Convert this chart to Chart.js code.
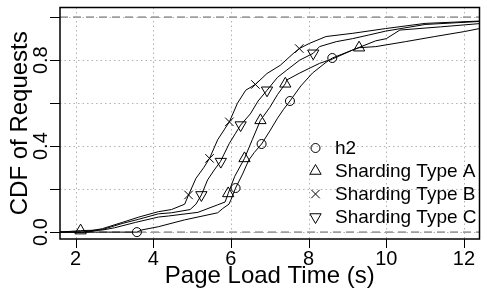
<!DOCTYPE html>
<html>
<head>
<meta charset="utf-8">
<script src="https://cdn.jsdelivr.net/npm/chart.js@4/dist/chart.umd.min.js"></script>
<style>
  html, body { margin: 0; padding: 0; background: #fff; }
  canvas { display: block; }
</style>
</head>
<body>
<canvas id="cdfChart" width="487" height="290"></canvas>
<script>
// CDF curves (page load time in s, fraction of requests)
var h2X = [1.6, 3.58, 3.7, 4.13, 4.81, 5.66, 5.79, 5.95, 6.0, 6.12, 6.3, 6.46, 6.6, 6.79, 7.0, 7.2, 7.35, 7.52, 7.8, 8.1, 8.45, 8.61, 9.13, 9.73, 10.0, 10.35, 11.4, 12.4];
var h2Y = [0, 0, 0.01, 0.025, 0.057, 0.09, 0.11, 0.13, 0.15, 0.205, 0.27, 0.335, 0.37, 0.41, 0.47, 0.53, 0.57, 0.61, 0.68, 0.74, 0.79, 0.81, 0.847, 0.89, 0.90, 0.94, 0.955, 0.97];

var typeAX = [1.6, 2.13, 2.7, 3.0, 3.54, 4.13, 4.39, 5.15, 5.66, 5.85, 5.93, 6.1, 6.35, 6.55, 6.76, 7.0, 7.2, 7.4, 7.44, 7.77, 8.28, 8.61, 9.13, 9.3, 9.73, 10.49, 11.25, 12.01, 12.4];
var typeAY = [0, 0.007, 0.01, 0.02, 0.045, 0.07, 0.075, 0.092, 0.127, 0.14, 0.18, 0.26, 0.343, 0.43, 0.52, 0.58, 0.64, 0.69, 0.708, 0.74, 0.785, 0.805, 0.847, 0.858, 0.863, 0.886, 0.91, 0.933, 0.947];

var typeBX = [1.6, 2.2, 2.69, 3.2, 3.63, 4.13, 4.47, 4.81, 4.91, 5.1, 5.3, 5.45, 5.66, 5.96, 6.17, 6.38, 6.63, 6.93, 7.27, 7.6, 7.76, 8.02, 8.45, 9.14, 9.98, 11.0, 12.4];
var typeBY = [0, 0, 0.016, 0.045, 0.07, 0.095, 0.105, 0.13, 0.173, 0.25, 0.3, 0.343, 0.43, 0.513, 0.6, 0.66, 0.687, 0.738, 0.776, 0.83, 0.854, 0.878, 0.91, 0.925, 0.947, 0.971, 0.982];

var typeCX = [1.6, 2.3, 2.69, 3.2, 3.63, 4.13, 4.47, 4.95, 5.1, 5.24, 5.4, 5.57, 5.73, 5.96, 6.12, 6.25, 6.5, 6.7, 6.93, 7.2, 7.44, 7.77, 8.12, 8.28, 8.71, 9.13, 9.55, 9.98, 11.0, 12.4];
var typeCY = [0, 0, 0.012, 0.04, 0.06, 0.085, 0.09, 0.105, 0.13, 0.173, 0.243, 0.289, 0.328, 0.413, 0.46, 0.498, 0.55, 0.61, 0.66, 0.72, 0.754, 0.80, 0.832, 0.863, 0.886, 0.90, 0.917, 0.935, 0.966, 0.98];

// where the symbols sit on each curve
var h2MarkX = [3.58, 6.12, 6.79, 7.52, 8.61];
var h2MarkY = [0, 0.205, 0.41, 0.61, 0.81];
var typeAMarkX = [2.13, 5.93, 6.35, 6.76, 7.40, 9.30];
var typeAMarkY = [0.007, 0.18, 0.343, 0.52, 0.69, 0.858];
var typeBMarkX = [4.91, 5.45, 5.96, 6.63, 7.76];
var typeBMarkY = [0.173, 0.343, 0.513, 0.687, 0.854];
var typeCMarkX = [5.24, 5.74, 6.25, 6.93, 8.12];
var typeCMarkY = [0.173, 0.328, 0.498, 0.66, 0.832];

var seriesNames = ["h2", "Sharding Type A", "Sharding Type B", "Sharding Type C"];

// axes
var xTicks = [2, 4, 6, 8, 10, 12];
var xTickLabels = ["2", "4", "6", "8", "10", "12"];
var yTicks = [0, 0.2, 0.4, 0.6, 0.8, 1.0];
var yTickLabels = ["0.0", "", "0.4", "", "0.8", ""];
var refLines = [0, 1];
var xTitle = "Page Load Time (s)";
var yTitle = "CDF of Requests";

var FONT = "'Liberation Sans', Arial, Helvetica, sans-serif";

function pts(xs, ys) {
    return xs.map(function (x, i) { return { x: x, y: ys[i] }; });
}

var symbols = [
    { pointStyle: 'circle', radius: 4.5, rotation: 0 },
    { pointStyle: 'triangle', radius: 6.5, rotation: 0 },
    { pointStyle: 'crossRot', radius: 6, rotation: 0 },
    { pointStyle: 'triangle', radius: 6.5, rotation: 180 }
];

function curve(xs, ys) {
    return {
        data: pts(xs, ys),
        showLine: true,
        borderColor: '#000',
        borderWidth: 1,
        pointRadius: 0,
        tension: 0
    };
}

function markers(xs, ys, sym) {
    return {
        data: pts(xs, ys),
        showLine: false,
        pointStyle: sym.pointStyle,
        pointRadius: sym.radius,
        pointRotation: sym.rotation,
        pointBorderColor: '#000',
        pointBackgroundColor: 'rgba(0,0,0,0)',
        pointBorderWidth: 1
    };
}

// grid, axes, labels and legend drawn like the R base plot
var frame = {
    id: 'frame',
    beforeDatasetsDraw: function (chart) {
        var ctx = chart.ctx, a = chart.chartArea;
        var xs = chart.scales.x, ys = chart.scales.y;
        ctx.save();
        ctx.strokeStyle = '#b3b3b3';
        ctx.lineWidth = 1;
        ctx.setLineDash([1.5, 3]);
        xTicks.forEach(function (v) {
            var px = Math.round(xs.getPixelForValue(v)) + 0.5;
            ctx.beginPath(); ctx.moveTo(px, a.top); ctx.lineTo(px, a.bottom); ctx.stroke();
        });
        yTicks.forEach(function (v) {
            var py = Math.round(ys.getPixelForValue(v)) + 0.5;
            ctx.beginPath(); ctx.moveTo(a.left, py); ctx.lineTo(a.right, py); ctx.stroke();
        });
        ctx.strokeStyle = '#9e9e9e';
        ctx.lineWidth = 1.6;
        ctx.setLineDash([8, 5]);
        refLines.forEach(function (v) {
            var py = ys.getPixelForValue(v);
            ctx.beginPath(); ctx.moveTo(a.left, py); ctx.lineTo(a.right, py); ctx.stroke();
        });
        ctx.restore();
    },
    afterDraw: function (chart) {
        var ctx = chart.ctx, a = chart.chartArea;
        var xs = chart.scales.x, ys = chart.scales.y;
        ctx.save();
        // box
        ctx.strokeStyle = '#000';
        ctx.lineWidth = 1.5;
        ctx.strokeRect(a.left, a.top, a.right - a.left, a.bottom - a.top);

        // tick marks
        ctx.lineWidth = 1;
        xTicks.forEach(function (v) {
            var px = Math.round(xs.getPixelForValue(v)) + 0.5;
            ctx.beginPath(); ctx.moveTo(px, a.bottom); ctx.lineTo(px, a.bottom + 9); ctx.stroke();
        });
        yTicks.forEach(function (v) {
            var py = Math.round(ys.getPixelForValue(v)) + 0.5;
            ctx.beginPath(); ctx.moveTo(a.left, py); ctx.lineTo(a.left - 10, py); ctx.stroke();
        });

        // tick labels
        ctx.fillStyle = '#000';
        ctx.font = '20px ' + FONT;
        ctx.textAlign = 'center';
        ctx.textBaseline = 'alphabetic';
        xTicks.forEach(function (v, i) {
            ctx.fillText(xTickLabels[i], xs.getPixelForValue(v), 265);
        });
        yTicks.forEach(function (v, i) {
            if (!yTickLabels[i]) return;
            ctx.save();
            ctx.translate(46.5, ys.getPixelForValue(v));
            ctx.rotate(-Math.PI / 2);
            ctx.fillText(yTickLabels[i], 0, 0);
            ctx.restore();
        });

        // axis titles
        ctx.font = '24px ' + FONT;
        ctx.fillText(xTitle, (a.left + a.right) / 2, 283);
        ctx.save();
        ctx.translate(27, (a.top + a.bottom) / 2);
        ctx.rotate(-Math.PI / 2);
        ctx.fillText(yTitle, 0, 0);
        ctx.restore();

        // legend, no box
        ctx.font = '19px ' + FONT;
        ctx.textAlign = 'left';
        ctx.textBaseline = 'middle';
        seriesNames.forEach(function (name, i) {
            var y = 148 + i * 23;
            ctx.strokeStyle = '#000';
            ctx.fillStyle = 'rgba(0,0,0,0)';
            ctx.lineWidth = 1;
            Chart.helpers.drawPoint(ctx, {
                pointStyle: symbols[i].pointStyle,
                radius: symbols[i].radius,
                rotation: symbols[i].rotation,
                borderWidth: 1
            }, 315.5, y);
            ctx.fillStyle = '#000';
            ctx.fillText(name, 335, y + 1);
        });
        ctx.restore();
    }
};

function drawChart() {
    var ctx = document.getElementById('cdfChart').getContext('2d');
    var chart = new Chart(ctx, {
        type: 'scatter',
        data: {
            datasets: [
                curve(h2X, h2Y),
                curve(typeAX, typeAY),
                curve(typeBX, typeBY),
                curve(typeCX, typeCY),
                markers(h2MarkX, h2MarkY, symbols[0]),
                markers(typeAMarkX, typeAMarkY, symbols[1]),
                markers(typeBMarkX, typeBMarkY, symbols[2]),
                markers(typeCMarkX, typeCMarkY, symbols[3])
            ]
        },
        options: {
            responsive: false,
            animation: false,
            layout: { padding: { left: 60, top: 7, right: 1, bottom: 51 } },
            scales: {
                x: { type: 'linear', min: 1.6, max: 12.4, display: false },
                y: { type: 'linear', min: -0.032, max: 1.045, display: false }
            },
            plugins: {
                legend: { display: false },
                tooltip: { enabled: false }
            }
        },
        plugins: [frame]
    });
}

drawChart();
</script>
</body>
</html>
